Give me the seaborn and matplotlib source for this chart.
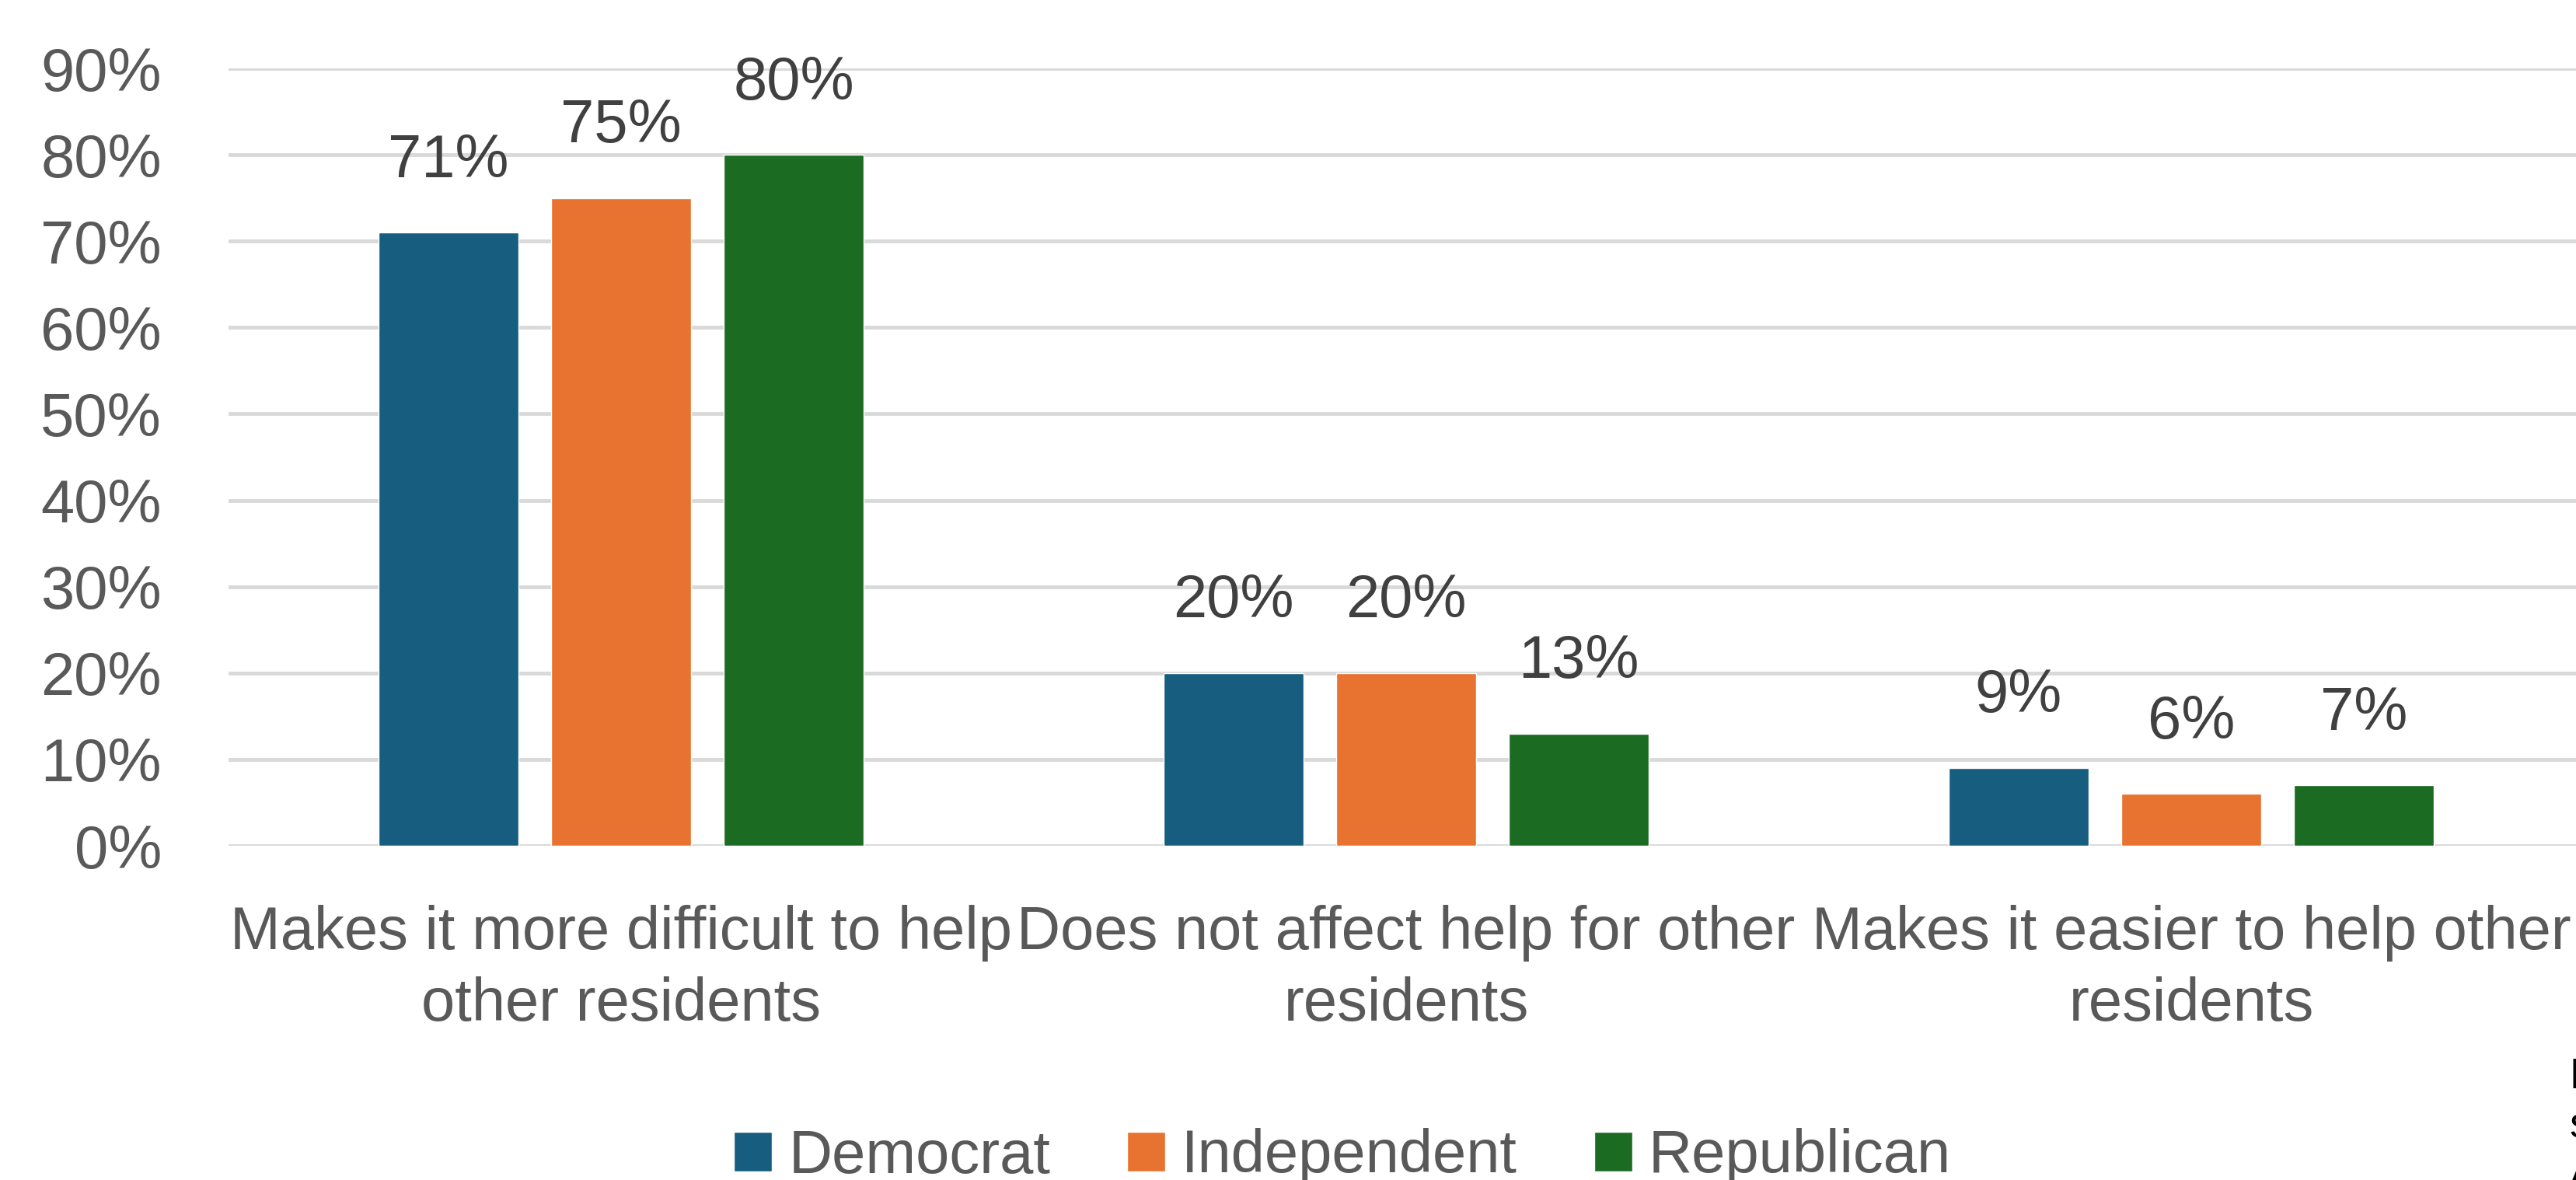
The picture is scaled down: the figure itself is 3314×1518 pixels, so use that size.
import matplotlib
matplotlib.use("Agg")
import matplotlib.pyplot as plt
import seaborn as sns
import pandas as pd

categories = [
    "Makes it more difficult to help\nother residents",
    "Does not affect help for other\nresidents",
    "Makes it easier to help other\nresidents",
]
parties = ["Democrat", "Independent", "Republican"]
democrat = [0.71, 0.20, 0.09]
independent = [0.75, 0.20, 0.06]
republican = [0.80, 0.13, 0.07]
yticks = [0.0, 0.1, 0.2, 0.3, 0.4, 0.5, 0.6, 0.7, 0.8, 0.9]
ytick_labels = ["0%", "10%", "20%", "30%", "40%", "50%", "60%", "70%", "80%", "90%"]
colors = ["#165D7F", "#E8722F", "#1B6B23"]

rows = []
for p, vals in zip(parties, [democrat, independent, republican]):
    for c, v in zip(categories, vals):
        rows.append({"category": c, "party": p, "value": v})
df = pd.DataFrame(rows)

sns.set_theme(style="white")
plt.rcParams["font.family"] = ["Liberation Sans", "DejaVu Sans"]

W, H = 3314, 1518
fig = plt.figure(figsize=(W / 100, H / 100), dpi=100)
ax = fig.add_axes([294 / W, 1 - 1088 / H, 3030 / W, 1000 / H])

sns.barplot(data=df, x="category", y="value", hue="party", order=categories,
            hue_order=parties, palette=colors, width=0.66, gap=0.19,
            saturation=1, ax=ax, legend=True, errorbar=None)

ax.set_xlim(-0.5, 2.5)
ax.set_ylim(0, 0.9)
ax.set_yticks(yticks)
ax.set_yticklabels(ytick_labels)
ax.grid(axis="y", color="#D9D9D9", linewidth=3.5)
ax.set_axisbelow(True)
for s in ax.spines.values():
    s.set_visible(False)
ax.set_xlabel("")
ax.set_ylabel("")
ax.tick_params(axis="both", length=0, labelsize=56, colors="#595959")
ax.tick_params(axis="y", pad=62)
ax.tick_params(axis="x", pad=55)
for t in ax.get_xticklabels():
    t.set_linespacing(1.32)

for cont in ax.containers:
    ax.bar_label(cont, labels=[f"{b.get_height():.0%}" for b in cont],
                 padding=40, fontsize=56, color="#404040")

handles, labels = ax.get_legend_handles_labels()
ax.get_legend().remove()
fig.legend(handles, labels, loc="center", bbox_to_anchor=(1727 / W, 1 - 1488 / H),
           ncol=3, frameon=False, fontsize=56, handlelength=0.63, handleheight=0.63,
           handletextpad=0.27, columnspacing=1.27, labelcolor="#595959",
           borderpad=0, borderaxespad=0)

fig.text(3305 / W, 1 - 1360 / H, "D\ns\nA", fontsize=40, color="black",
         ha="left", va="top", linespacing=1.3)

fig.savefig("out.png", dpi=100)
